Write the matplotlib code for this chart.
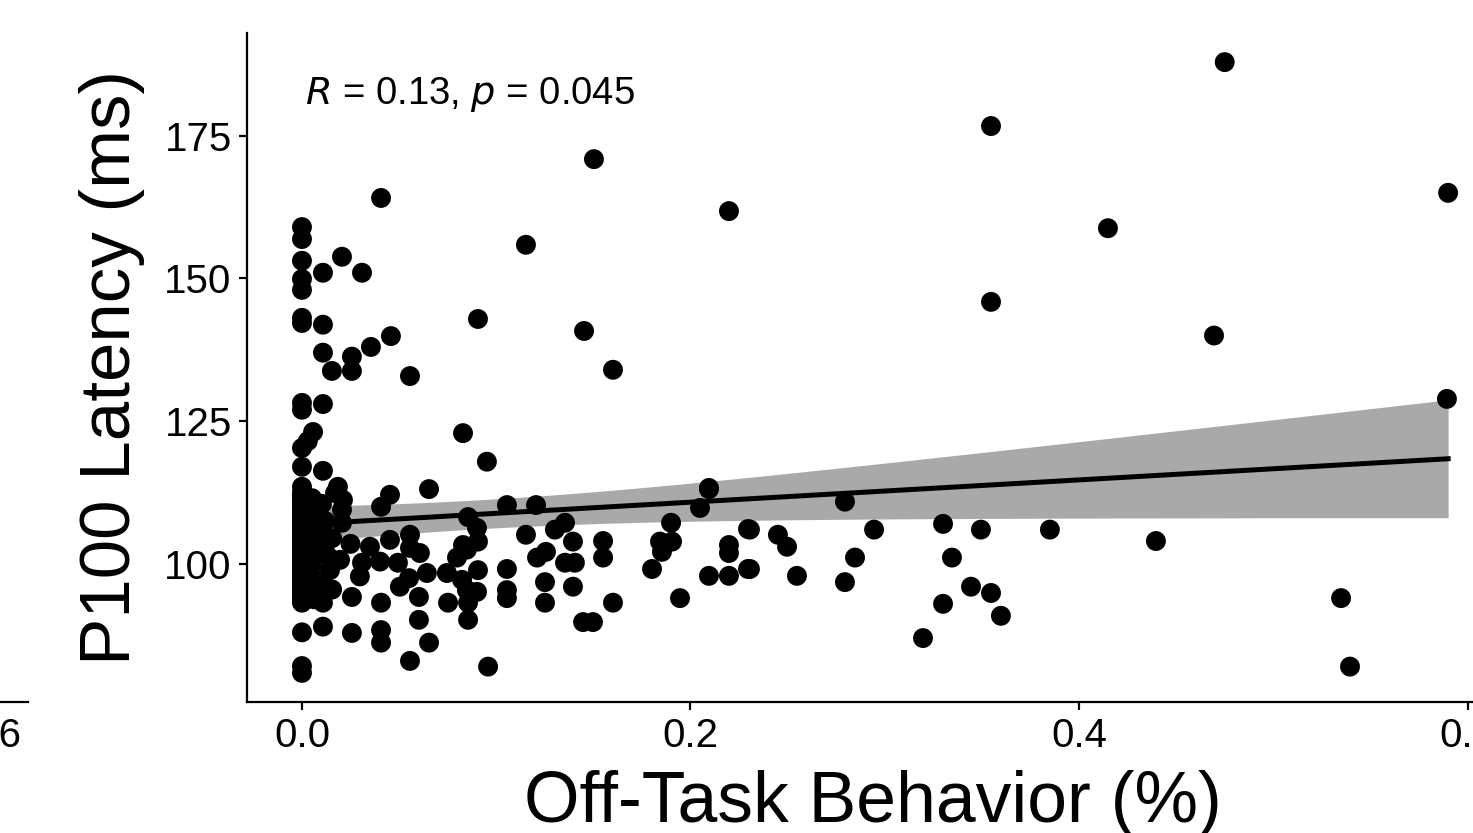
import numpy as np
import matplotlib
matplotlib.use('Agg')
from matplotlib import pyplot as plt

plt.rcParams['font.family'] = ['Liberation Sans', 'DejaVu Sans']

##

# off-task behaviour (proportion) and P100 latency (ms)

# upper, scattered points
x_high = [0.475, 0.3547, 0.1503, 0.590, 0.0407, 0.2198, 0.4149, 0.1153, 0.3547, 0.4695,
          0.0906, 0.1452, 0.1601, 0.5894, 0.0829, 0.0952, 0.2095]
y_high = [187.9, 176.7, 170.9, 165.0, 164.1, 161.8, 158.8, 155.9, 145.9, 140.0,
          142.9, 140.8, 134.0, 128.9, 122.9, 117.9, 113.3]

# near zero, high latency
x_left_high = [0, 0, 0, 0, 0, 0, 0, 0, 0, 0, 0,
               0.0206, 0.0108, 0.0309, 0.0108, 0.0108, 0.0257, 0.0154, 0.0257, 0.0355,
               0.0458, 0.0556, 0.0108, 0.0057, 0.0108, 0.003]
y_left_high = [159.0, 156.9, 153.1, 149.9, 148.0, 143.1, 142.2, 128.2, 127.0, 120.3, 117.0,
               153.8, 151.0, 151.0, 141.9, 137.0, 136.3, 133.8, 133.8, 138.0,
               139.9, 132.9, 128.0, 123.1, 116.3, 121.5]

# right half, below the line
x_right = [0.2795, 0.2306, 0.2450, 0.2497, 0.2945, 0.330, 0.3495, 0.385, 0.4396, 0.2306,
           0.2548, 0.2847, 0.2795, 0.3346, 0.3444, 0.3547, 0.330, 0.3598, 0.3197, 0.5349,
           0.5395]
y_right = [110.9, 106.0, 105.1, 103.0, 106.0, 107.0, 106.0, 106.0, 104.0, 99.1,
           97.9, 101.1, 96.8, 101.1, 96.0, 94.9, 93.0, 90.9, 87.0, 94.0,
           82.0]

# middle band 0.08 - 0.23
x_mid = [0.0855, 0.1055, 0.1205, 0.0901, 0.0906, 0.0906, 0.0849, 0.0901, 0.0855, 0.0855,
         0.1055, 0.1055, 0.1055, 0.1153, 0.121, 0.1256, 0.1302, 0.1354, 0.1395, 0.1354,
         0.1405, 0.1251, 0.1251, 0.1395, 0.1447, 0.1498, 0.155, 0.155, 0.1601, 0.0958,
         0.1802, 0.1843, 0.1853, 0.1905, 0.19, 0.1946, 0.2049, 0.2095, 0.2198, 0.2198,
         0.2095, 0.2198, 0.2296, 0.2296]
y_mid = [108.2, 110.3, 110.3, 106.3, 103.9, 98.9, 95.4, 95.1, 93.2, 90.2,
         99.1, 95.4, 94.0, 105.1, 101.1, 102.1, 106.0, 107.2, 103.9, 100.2,
         100.2, 96.8, 93.2, 96.0, 89.8, 89.8, 104.0, 101.1, 93.2, 82.0,
         99.1, 103.9, 102.1, 103.9, 107.2, 94.0, 109.8, 113.1, 103.3, 101.9,
         97.9, 97.9, 106.1, 99.1]

# near zero, low latency
x_left_low = [0, 0, 0, 0.0108, 0.0257, 0.0407, 0.0257, 0.0407, 0.0407, 0.0602,
              0.0602, 0.0654, 0.0556, 0.0752]
y_left_low = [88.0, 82.1, 80.9, 89.0, 94.2, 93.2, 87.9, 88.4, 86.2, 94.2,
              90.2, 86.2, 83.0, 93.2]

# near zero, the dense middle
x_left_mid = [0.0654, 0.0453, 0.0407, 0.017, 0.0211, 0.0103, 0.0206, 0.0103, 0.035, 0.0453,
              0.0556, 0.0607, 0.0309, 0.0402, 0.0494, 0.0196, 0.0144, 0.0504, 0.0643, 0.0746,
              0.0798, 0.0849, 0.0824, 0.0108, 0.0551, 0.0298, 0.025, 0.0155, 0.0082, 0.012,
              0.0185, 0.0206, 0.0051, 0.0051, 0.0051, 0.008, 0.013, 0.0556, 0.0829, 0.0052,
              0.0031, 0.0072, 0.0041, 0.0092, 0.0062, 0.0031, 0.0103, 0.0062, 0.0041, 0.0155]
y_left_mid = [113.1, 112.1, 110.0, 112.4, 111.2, 110.5, 107.2, 104.2, 103.0, 104.2,
              105.1, 101.9, 100.2, 100.4, 100.2, 100.7, 98.9, 96.0, 98.4, 98.4,
              101.1, 102.5, 97.2, 93.2, 97.5, 97.8, 103.5, 95.5, 97.0, 107.5,
              113.5, 109.5, 106.0, 100.0, 95.0, 102.0, 101.5, 102.8, 103.3, 111.5,
              108.5, 104.8, 99.0, 96.5, 93.8, 102.7, 95.8, 110.2, 105.6, 104.5]

# the column at exactly zero
y_zero = [113.5, 112.5, 111.5, 110.5, 109.8, 108.8, 108.0, 107.0, 106.2, 105.5,
          104.5, 103.8, 103.0, 102.2, 101.5, 100.8, 100.0, 99.2, 98.5, 97.8,
          97.0, 96.2, 95.5, 94.8, 94.0, 93.5, 105.0, 102.5, 99.5, 96.5,
          108.2, 104.0, 101.0, 98.0, 95.0, 111.0, 106.8, 103.2, 100.4, 97.4,
          94.4, 112.0, 109.0, 107.5, 102.8, 99.8, 96.8, 93.2]
x_zero = [0.0] * len(y_zero)

off_task = np.array(x_high + x_left_high + x_right + x_mid + x_left_low + x_left_mid + x_zero)
latency = np.array(y_high + y_left_high + y_right + y_mid + y_left_low + y_left_mid + y_zero)

stat_label = r'$\it{R}$ = 0.13, $\it{p}$ = 0.045'

##

# linear fit with 95% band, like geom_smooth(method='lm')
n = len(off_task)
slope, icept = np.polyfit(off_task, latency, 1)
resid = latency - (icept + slope*off_task)
s = np.sqrt(np.sum(resid**2)/(n - 2))
xbar = off_task.mean()
sxx = np.sum((off_task - xbar)**2)
xfit = np.linspace(off_task.min(), off_task.max(), 80)
yfit = icept + slope*xfit
half = 1.97*s*np.sqrt(1/n + (xfit - xbar)**2/sxx)

##

W, H = 1473, 833
fig = plt.figure(figsize=(W/100, H/100), dpi=100)

# main panel; its right part runs past the crop
ax = fig.add_axes([247/W, (H - 702)/H, (1499 - 247)/W, (702 - 33)/H])
ax.fill_between(xfit, yfit - half, yfit + half, color='#a9a9a9', lw=0, zorder=1)
ax.plot(xfit, yfit, color='black', lw=3.6, zorder=2)
ax.scatter(off_task, latency, s=205, color='black', edgecolors='none', zorder=3)

ax.set_xlim(-0.0283, 0.6162)
ax.set_ylim(75.8, 193.0)
ax.set_xticks([0.0, 0.2, 0.4, 0.6])
ax.set_xticklabels(['0.0', '0.2', '0.4', '0.6'])
ax.set_yticks([100, 125, 150, 175])
for side in ['top', 'right']:
    ax.spines[side].set_visible(False)
for side in ['left', 'bottom']:
    ax.spines[side].set_linewidth(1.6)
ax.tick_params(axis='both', length=6, width=1.6, labelsize=29, pad=5, colors='black')
ax.set_xlabel('Off-Task Behavior (%)', fontsize=51.5, labelpad=10.5)
ax.set_ylabel('P100 Latency (ms)', fontsize=51, labelpad=14)

ax.text(0.0015, 182.2, stat_label, fontsize=27.5, ha='left', va='center')

# edge of the neighbouring panel on the left
ax0 = fig.add_axes([-700/W, (H - 702)/H, 728/W, (702 - 33)/H])
ax0.set_xlim(0.6 - 693/1942.5, 0.6 + 35/1942.5)
ax0.set_xticks([0.6])
ax0.set_xticklabels(['0.6'])
ax0.set_yticks([])
for side in ['top', 'right', 'left']:
    ax0.spines[side].set_visible(False)
ax0.spines['bottom'].set_linewidth(1.6)
ax0.tick_params(axis='x', length=6, width=1.6, labelsize=29, pad=5)
ax0.patch.set_alpha(0)

fig.savefig('out.png', dpi=100)
